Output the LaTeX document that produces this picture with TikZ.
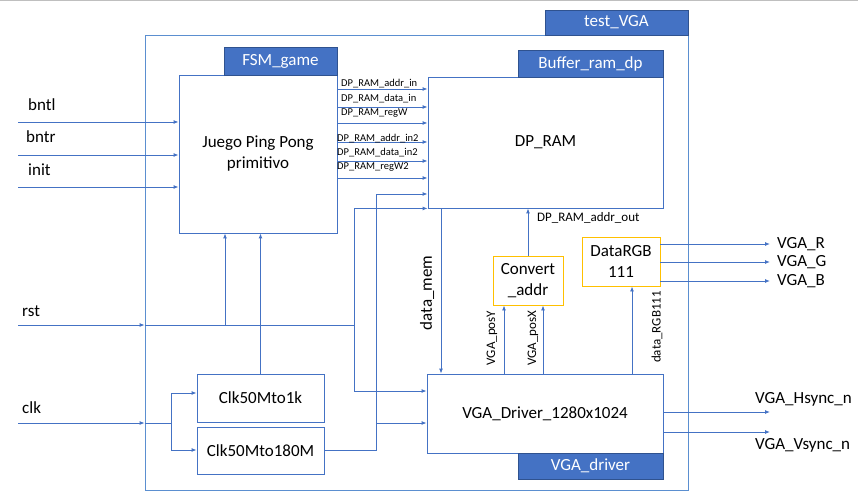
\documentclass[tikz,border=0pt]{standalone}
\usepackage{fontspec}
\setmainfont{Carlito}
\usetikzlibrary{arrows.meta}
\definecolor{lblue}{HTML}{4472C4}
\definecolor{fblue}{HTML}{5B8FD0}
\definecolor{hborder}{HTML}{2F528F}
\definecolor{orng}{HTML}{FFC000}
\begin{document}
\begin{tikzpicture}[x=1pt,y=-1pt,
  big/.style={font=\fontsize{17}{21}\selectfont},
  small/.style={font=\fontsize{10.5}{12}\selectfont, inner sep=0pt},
  mid/.style={font=\fontsize{13}{15}\selectfont, inner sep=0pt},
  blk/.style={draw=lblue, line width=0.9pt, inner sep=0pt, align=center, big},
  frame/.style={draw=fblue, line width=0.8pt, inner sep=0pt},
  hdr/.style={draw=hborder, fill=lblue, line width=0.8pt, text=white, inner sep=0pt, big},
  obox/.style={draw=orng, line width=0.9pt, inner sep=0pt, align=center, big},
  wire/.style={draw=lblue, line width=0.9pt},
  arr/.style={wire, -{Latex[length=5pt,width=4pt]}},
  txt/.style={big, inner sep=0pt, anchor=west}
]
\useasboundingbox (0,0) rectangle (858,502);
\draw[black!25, line width=1pt] (0,0.5) -- (858,0.5);

% outer frame
\node[frame, minimum width=543pt, minimum height=455pt] (outer) at (416.5,262.5) {};
\node[hdr, minimum width=143pt, minimum height=25pt] (outerh) at (616.5,22.5) {test\_VGA};

% blocks
\node[blk, minimum width=158pt, minimum height=158pt] (fsm) at (258,154) {Juego Ping Pong\\primitivo};
\node[hdr, minimum width=113pt, minimum height=28pt] (fsmh) at (280.5,61) {FSM\_game};
\node[blk, minimum width=235pt, minimum height=131pt] (dpram) at (545.5,142.5) {DP\_RAM};
\node[hdr, minimum width=145pt, minimum height=27pt] (dph) at (590.5,63.5) {Buffer\_ram\_dp};
\node[blk, minimum width=236pt, minimum height=79pt] (vga) at (545,413.5) {VGA\_Driver\_1280x1024};
\node[hdr, minimum width=145pt, minimum height=26pt] (vgah) at (590.5,466) {VGA\_driver};
\node[blk, minimum width=127pt, minimum height=48pt] (clka) at (260.5,398) {Clk50Mto1k};
\node[blk, minimum width=127pt, minimum height=47pt] (clkb) at (260.5,450.5) {Clk50Mto180M};
\node[obox, minimum width=70pt, minimum height=49pt] (conv) at (528,280.5) {Convert\\\_addr};
\node[obox, minimum width=78pt, minimum height=49pt] (rgb) at (621,261.5) {DataRGB\\111};

% inputs
\coordinate (bntlin) at (18,122);
\coordinate (bntrin) at (18,155);
\coordinate (initin) at (18,187);
\coordinate (rstin) at (18,325);
\coordinate (clkin) at (18,423);
\node[txt] (lbntl) at (28,105) {bntl};
\node[txt] (lbntr) at (26,137) {bntr};
\node[txt] (linit) at (28,170) {init};
\node[txt] (lrst) at (22,311) {rst};
\node[txt] (lclk) at (22,408) {clk};
\draw[arr] (bntlin) -- (fsm.west |- bntlin);
\draw[arr] (bntrin) -- (fsm.west |- bntrin);
\draw[arr] (initin) -- (fsm.west |- initin);

% rst routing
\coordinate (rj1) at (225,325);
\coordinate (rj2) at (354,325);
\draw[arr] (rstin) -- (outer.west |- rstin);
\draw[arr] (outer.west |- rstin) -| (fsm.south -| rj1);
\draw[wire] (rj1) -- (rj2);
\draw[arr] (rj2) |- (dpram.south west);
\draw[arr] (rj2) |- (vga.west |- 0,391);

% clk routing
\coordinate (cj) at (171,423);
\draw[arr] (clkin) -- (outer.west |- clkin);
\draw[wire] (outer.west |- clkin) -- (cj);
\draw[arr] (cj) |- (clka.west |- 0,393);
\draw[arr] (cj) |- (clkb.west |- 0,450);
\draw[arr] (clka.north) -- (clka.north |- fsm.south);
\coordinate (bj) at (376,423);
\draw[wire] (clkb.east |- 0,450) -| (bj);
\draw[arr] (bj) -- (vga.west |- bj);
\draw[arr] (bj) |- (dpram.west |- 0,194);

% FSM -> DP_RAM
\foreach \yy in {89,107,123,142,161,178}
  \draw[arr] (fsm.east |- 0,\yy) -- (dpram.west |- 0,\yy);
\node[small, anchor=west] (s1) at (341,84) {DP\_RAM\_addr\_in};
\node[small, anchor=west] (s2) at (341,99) {DP\_RAM\_data\_in};
\node[small, anchor=west] (s3) at (341,113) {DP\_RAM\_regW};
\node[small, anchor=west] (s4) at (337,139) {DP\_RAM\_addr\_in2};
\node[small, anchor=west] (s5) at (337,153) {DP\_RAM\_data\_in2};
\node[small, anchor=west] (s6) at (337,167) {DP\_RAM\_regW2};

% data_mem
\draw[arr] (dpram.south -| 441,0) -- (vga.north -| 441,0);
\node[big, rotate=90, inner sep=0pt] (ldm) at (427,293) {data\_mem};

% convert addr
\draw[arr] (conv.north) -- (conv.north |- dpram.south);
\node[mid, anchor=west] (lao) at (537,218) {DP\_RAM\_addr\_out};
\draw[arr] (vga.north -| 504,0) -- (conv.south -| 504,0);
\draw[arr] (vga.north -| 543,0) -- (conv.south -| 543,0);
\node[mid, rotate=90] (lpy) at (492,338) {VGA\_posY};
\node[mid, rotate=90] (lpx) at (533,338) {VGA\_posX};

% rgb
\draw[arr] (vga.north -| 632,0) -- (rgb.south -| 632,0);
\node[mid, rotate=90] (lrgb) at (657,327) {data\_RGB111};
\coordinate (ro) at (770,244);
\coordinate (go) at (770,262);
\coordinate (bo) at (770,281);
\draw[arr] (rgb.east |- ro) -- (ro);
\draw[arr] (rgb.east |- go) -- (go);
\draw[arr] (rgb.east |- bo) -- (bo);
\node[txt] (lr) at (777,244) {VGA\_R};
\node[txt] (lg) at (777,262) {VGA\_G};
\node[txt] (lb) at (777,281) {VGA\_B};

% sync
\coordinate (ho) at (770,412);
\coordinate (vo) at (770,432);
\draw[arr] (vga.east |- ho) -- (ho);
\draw[arr] (vga.east |- vo) -- (vo);
\node[txt] (lh) at (755,399) {VGA\_Hsync\_n};
\node[txt] (lv) at (755,445) {VGA\_Vsync\_n};
\end{tikzpicture}
\end{document}
